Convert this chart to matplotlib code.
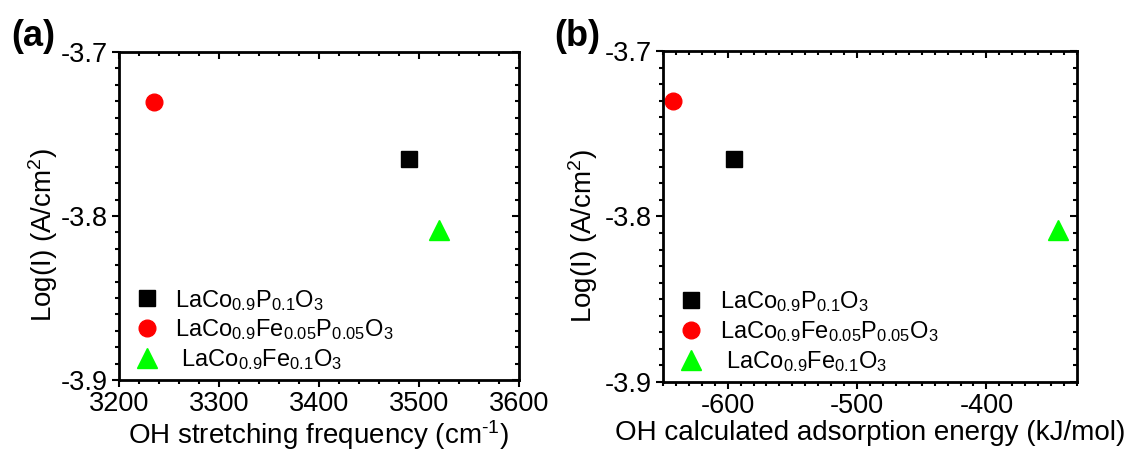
import matplotlib
matplotlib.use("Agg")
from matplotlib import pyplot as plt
from matplotlib.ticker import MultipleLocator, FormatStrFormatter

plt.rcParams['font.family'] = ['Liberation Sans', 'DejaVu Sans']
plt.rcParams['mathtext.fontset'] = 'custom'
plt.rcParams['mathtext.rm'] = 'Liberation Sans'
plt.rcParams['mathtext.it'] = 'Liberation Sans'
plt.rcParams['axes.unicode_minus'] = False

# data
samples = ['LaCo$_{0.9}$P$_{0.1}$O$_{3}$',
           'LaCo$_{0.9}$Fe$_{0.05}$P$_{0.05}$O$_{3}$',
           ' LaCo$_{0.9}$Fe$_{0.1}$O$_{3}$']
log_current = [-3.7655, -3.7302, -3.8084]
oh_freq = [3490, 3235, 3520]
oh_energy = [-595, -642, -345]

markers = ['s', 'o', '^']
msizes = [11.5, 12, 15]
colors = ['#000000', '#ff0000', '#00ff00']

fs_tick = 19.5
fs_label = 20
fs_leg = 17


def style_axes(ax, xlim, xmajor, xminor):
    ax.set_xlim(*xlim)
    ax.set_ylim(-3.9, -3.7)
    ax.xaxis.set_major_locator(MultipleLocator(xmajor))
    ax.xaxis.set_minor_locator(MultipleLocator(xminor))
    ax.yaxis.set_major_locator(MultipleLocator(0.1))
    ax.yaxis.set_minor_locator(MultipleLocator(0.01))
    ax.yaxis.set_major_formatter(FormatStrFormatter('%.1f'))
    ax.xaxis.set_major_formatter(FormatStrFormatter('%d'))
    for s in ax.spines.values():
        s.set_linewidth(2.0)
    ax.tick_params(which='both', direction='out', width=1.5,
                   labelsize=fs_tick, top=False, right=False, pad=3)
    ax.tick_params(which='major', length=5)
    ax.tick_params(which='minor', length=3)

    # overlay axes only for the inward ticks on top and right
    ov = fig.add_axes(ax.get_position(), frameon=False)
    ov.set_xlim(*xlim)
    ov.set_ylim(-3.9, -3.7)
    ov.xaxis.set_major_locator(MultipleLocator(xmajor))
    ov.xaxis.set_minor_locator(MultipleLocator(xminor))
    ov.yaxis.set_major_locator(MultipleLocator(0.1))
    ov.yaxis.set_minor_locator(MultipleLocator(0.01))
    ov.tick_params(which='both', direction='in', width=1.5,
                   bottom=False, left=False, top=True, right=True,
                   labelbottom=False, labelleft=False,
                   labeltop=False, labelright=False)
    ov.tick_params(which='major', length=5)
    ov.tick_params(which='minor', length=3)
    ov.patch.set_visible(False)


fig = plt.figure(figsize=(11.34, 4.51), dpi=100)
ax1 = fig.add_axes([119/1134, 1-380/451, 400/1134, 328/451])
ax2 = fig.add_axes([663/1134, 1-382/451, 414/1134, 331/451])

for ax, xs in ((ax1, oh_freq), (ax2, oh_energy)):
    for i in range(len(samples)):
        ax.plot(xs[i], log_current[i], linestyle='none', marker=markers[i],
                ms=msizes[i], color=colors[i], mec=colors[i], label=samples[i],
                clip_on=False)
    ax.legend(loc='lower left', bbox_to_anchor=(0.043, 0.025), frameon=False,
              fontsize=fs_leg, handlelength=0.9, handletextpad=0.75,
              borderpad=0.0, borderaxespad=0.0, labelspacing=0.2)
    ax.set_ylabel('Log(I) (A/cm$^{2}$)', fontsize=fs_label)

style_axes(ax1, (3200, 3600), 100, 20)
style_axes(ax2, (-650, -330), 100, 10)

ax1.set_xlabel('OH stretching frequency (cm$^{\\text{-}1}$)', fontsize=fs_label, labelpad=1)
ax2.set_xlabel('OH calculated adsorption energy (kJ/mol)', fontsize=fs_label, labelpad=1)
ax1.yaxis.set_label_coords(-0.1475, 0.442)
ax2.yaxis.set_label_coords(-0.152, 0.442)

fig.text(33/1134, 1-37/451, '(a)', fontsize=26, fontweight='bold',
         ha='center', va='center')
fig.text(577/1134, 1-37/451, '(b)', fontsize=26, fontweight='bold',
         ha='center', va='center')

fig.savefig('out.png', dpi=100)
